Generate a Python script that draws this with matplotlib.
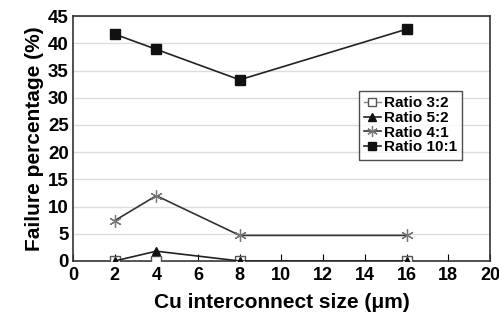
import matplotlib
matplotlib.use('Agg')
import matplotlib.pyplot as plt

sizes = [2, 4, 8, 16]
ratio_3_2 = [0, 0, 0, 0]
ratio_5_2 = [0, 1.8, 0, 0]
ratio_4_1 = [7.4, 12.0, 4.7, 4.7]
ratio_10_1 = [41.7, 38.9, 33.3, 42.6]

plt.rcParams['font.family'] = ['Liberation Sans', 'DejaVu Sans']
plt.rcParams['font.weight'] = 'bold'

fig = plt.figure(figsize=(4.99, 3.23), dpi=100)
ax = fig.add_axes([0.146, 0.192, 0.836, 0.758])

ax.plot(sizes, ratio_10_1, color='#222222', lw=1.2, marker='s', ms=7,
        mfc='#111111', mec='#111111', label='Ratio 10:1', zorder=3)
ax.plot(sizes, ratio_4_1, color='#333333', lw=1.2, marker=(6, 2, 0), ms=9,
        mec='#777777', mew=0.9, label='Ratio 4:1', zorder=3)
ax.plot(sizes, ratio_5_2, color='#222222', lw=1.2, marker='^', ms=6,
        mfc='#111111', mec='#111111', label='Ratio 5:2', zorder=4)
ax.plot(sizes, ratio_3_2, color='#888888', lw=1.0, marker='s', ms=7,
        mfc='white', mec='#555555', label='Ratio 3:2', zorder=3.5)

ax.set_xlim(0, 20)
ax.set_ylim(0, 45)
ax.set_xticks(range(0, 21, 2))
ax.set_yticks(range(0, 46, 5))
ax.yaxis.grid(True, color='#dddddd', lw=1)
ax.set_axisbelow(True)
for s in ax.spines.values():
    s.set_color('#333333')
    s.set_linewidth(1.2)
ax.tick_params(axis='x', direction='in', length=5, labelsize=13, pad=4)
ax.tick_params(axis='y', direction='in', length=0, labelsize=13.5, pad=3)

ax.set_xlabel('Cu interconnect size (\u03bcm)', fontsize=15, fontweight='bold', labelpad=7)
ax.set_ylabel('Failure percentage (%)', fontsize=15, fontweight='bold', labelpad=3)

h, l = ax.get_legend_handles_labels()
order = [3, 2, 1, 0]
leg = ax.legend([h[i] for i in order], [l[i] for i in order],
                loc='upper left', bbox_to_anchor=(0.685, 0.695),
                frameon=True, fancybox=False, edgecolor='#222222',
                handlelength=1.1, handletextpad=0.2, labelspacing=0.05,
                borderpad=0.35, borderaxespad=0, markerscale=0.85,
                prop={'weight': 'bold', 'size': 11})
leg.get_frame().set_linewidth(1.0)

fig.savefig('out.png', dpi=100)
